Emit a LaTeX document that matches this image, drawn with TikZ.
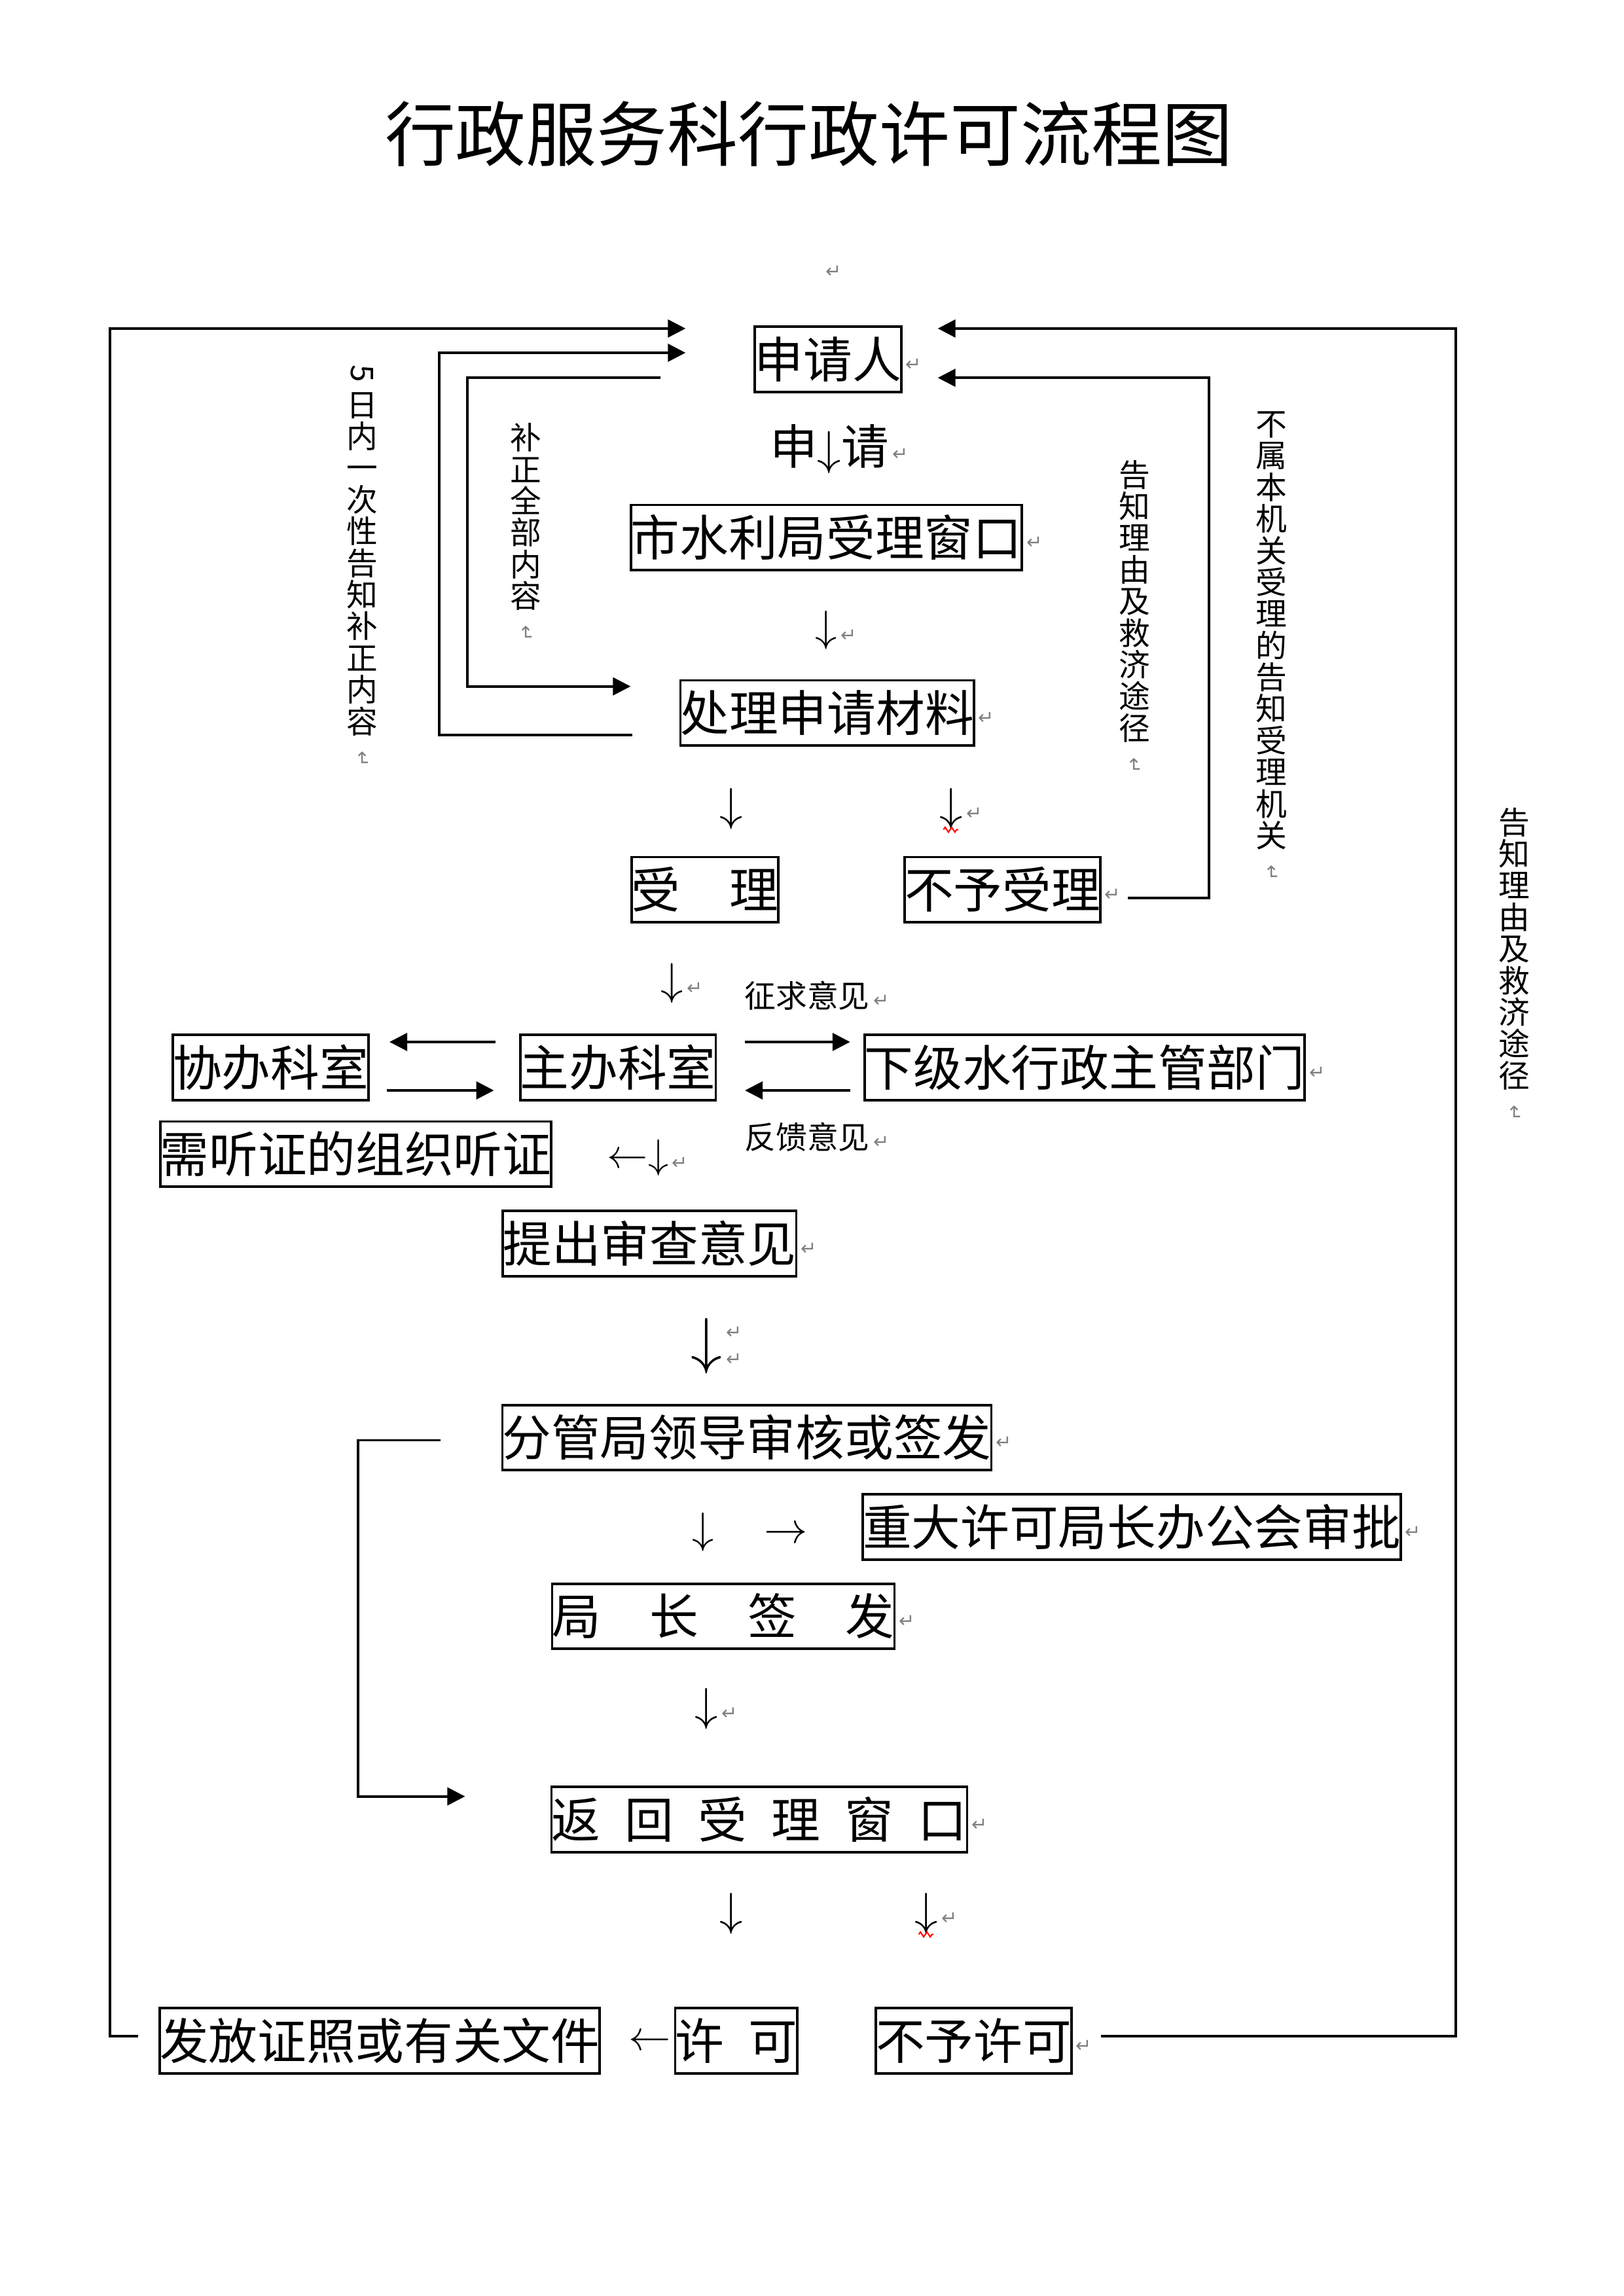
\RequirePackage{fix-cm}
\documentclass[tikz,border=0pt]{standalone}
\usepackage{fontspec}
\usepackage{graphicx}
\newfontfamily\cjk{Noto Sans CJK SC}
\newfontfamily\symf{DejaVu Sans}
\usetikzlibrary{
    arrows.meta,
    positioning,
    calc,
    decorations.pathmorphing
}
\newcommand{\pmk}{↵}
\newcommand{\vmk}{\rotatebox[origin=c]{-90}{\textcolor{gray}{\symf\fontsize{7}{7}\selectfont ↵}}}
\tikzset{para-mark/.style={
        inner sep=1pt,
        text=gray,
        font=\symf\fontsize{7}{7}\selectfont,
        yshift=-2pt
    }
}

\begin{document}
\begin{tikzpicture}[
    x=0.019056cm, y=-0.019056cm,
    box/.style={draw, line width=0.9pt, inner xsep=0pt, inner ysep=0pt, minimum height=24pt,
        text height=15pt, text depth=1.5pt, font=\cjk\fontsize{18}{18}\selectfont},
    vlabel/.style={align=center, inner sep=0pt, anchor=north, font=\cjk\fontsize{11.5}{11.66}\selectfont},
    note/.style={inner sep=0pt, font=\cjk\fontsize{11.5}{11.5}\selectfont},
    glyph-arrow/.style={inner sep=0pt, font=\fontsize{#1}{#1}\selectfont},
    connection/.style={-{Triangle[length=6.5pt,width=6.5pt]}, line width=0.9pt},
    squiggle/.style={red, line width=0.5pt, decorate, decoration={zigzag, amplitude=0.9pt, segment length=2.4pt}}
    ]

    \useasboundingbox (0,0) rectangle (1102.3,1558.8);

    \node[inner sep=0pt, font=\cjk\fontsize{26}{26}\selectfont] (title) at (549,91) {行政服务科行政许可流程图};
    \node[para-mark] (mark-top) at (566,181) {\pmk};

    \node[box, label={[para-mark]east:\pmk}] (applicant) at (562,244) {申请人};
    \node[inner sep=0pt, font=\cjk\fontsize{17.5}{17.5}\selectfont, label={[para-mark]east:\pmk}] (apply) at (563,305) {申$\downarrow$请};
    \node[box, label={[para-mark]east:\pmk}] (accept-window) at (561,365) {市水利局受理窗口};
    \node[glyph-arrow=16, label={[para-mark]east:\pmk}] (arrow-window) at (561,428) {$\downarrow$};
    \node[box, label={[para-mark]east:\pmk}] (process) at (561.5,484) {处理申请材料};
    \node[glyph-arrow=17] (arrow-accept) at (496.5,549) {$\downarrow$};
    \node[glyph-arrow=17, label={[para-mark]east:\pmk}] (arrow-refuse) at (645.5,549) {$\downarrow$};
    \node[box] (accepted) at (478.5,604) {受　理};
    \node[box, label={[para-mark]east:\pmk}] (refused) at (680.5,604) {不予受理};

    \node[glyph-arrow=16.5, label={[para-mark]east:\pmk}] (arrow-host) at (456,667.5) {$\downarrow$};
    \node[note, label={[para-mark]east:\pmk}] (ask-opinion) at (548,676) {征求意见};
    \node[box] (co-office) at (183.8,724.8) {协办科室};
    \node[box] (main-office) at (419.5,724.8) {主办科室};
    \node[box, label={[para-mark]east:\pmk}] (lower-dept) at (736.3,724.8) {下级水行政主管部门};
    \node[note, label={[para-mark]east:\pmk}] (feedback) at (548,772) {反馈意见};
    \node[box] (hearing) at (241.5,783.5) {需听证的组织听证};
    \node[glyph-arrow=15, label={[para-mark]east:\pmk}] (arrow-hearing) at (433,786) {$\leftarrow\downarrow$};
    \node[box, label={[para-mark]east:\pmk}] (review) at (441,844.3) {提出审查意见};
    \node[glyph-arrow=23, label={[para-mark, yshift=7pt]east:\pmk}, label={[para-mark, yshift=-3pt]east:\pmk}] (arrow-review) at (479.6,914) {$\downarrow$};

    \node[box, label={[para-mark]east:\pmk}] (leader) at (507,976) {分管局领导审核或签发};
    \node[glyph-arrow=16] (arrow-major) at (509,1040) {$\downarrow$\hspace{1.15em}$\rightarrow$};
    \node[box, label={[para-mark]east:\pmk}] (major) at (768.3,1036.7) {重大许可局长办公会审批};
    \node[box, label={[para-mark]east:\pmk}] (director) at (491,1097.3) {局　长　签　发};
    \node[glyph-arrow=17, label={[para-mark]east:\pmk}] (arrow-director) at (479.6,1160) {$\downarrow$};
    \node[box, label={[para-mark]east:\pmk}] (return-window) at (515.5,1235.3) {返\hspace{0.5em}回\hspace{0.5em}受\hspace{0.5em}理\hspace{0.5em}窗\hspace{0.5em}口};
    \node[glyph-arrow=17] (arrow-permit) at (496.5,1299) {$\downarrow$};
    \node[glyph-arrow=17, label={[para-mark]east:\pmk}] (arrow-no-permit) at (628.7,1299) {$\downarrow$};
    \node[box] (issue) at (257.8,1385.5) {发放证照或有关文件};
    \node[glyph-arrow=15.5] (arrow-issue) at (441.3,1386.7) {$\leftarrow$};
    \node[box] (permit) at (499.8,1385.5) {许\hspace{0.5em}可};
    \node[box, label={[para-mark]east:\pmk}] (no-permit) at (661,1385.5) {不予许可};

    \node[vlabel] (notice-five) at (246,247.5) {\rotatebox[origin=c]{-90}{5}\\日\\内\\一\\次\\性\\告\\知\\补\\正\\内\\容\\\vmk};
    \node[vlabel] (notice-all) at (357,287) {补\\正\\全\\部\\内\\容\\\vmk};
    \node[vlabel] (reason-inner) at (770,312) {告\\知\\理\\由\\及\\救\\济\\途\\径\\\vmk};
    \node[vlabel] (redirect) at (863,279) {不\\属\\本\\机\\关\\受\\理\\的\\告\\知\\受\\理\\机\\关\\\vmk};
    \node[vlabel] (reason-outer) at (1028,548) {告\\知\\理\\由\\及\\救\\济\\途\\径\\\vmk};

    \draw[connection] ($(issue.west)+(-14,-3)$) -- ++(-19,0) |- ($(applicant.north west)+(-46,2)$);
    \draw[connection] ($(no-permit.east)+(19,-3)$) -- ++(241,0) |- ($(applicant.north east)+(24,2)$);
    \draw[connection] ($(process.west)+(-32,15)$) -- ++(-131,0) |- ($(applicant.west)+(-46,-4.5)$);
    \draw[connection] ($(applicant.west)+(-63,12.5)$) -- ++(-131,0) |- ($(process.west)+(-33,-18)$);
    \draw[connection] ($(refused.east)+(18,5.6)$) -- ++(55,0) |- ($(applicant.east)+(24,12.5)$);

    \draw[connection] ($(main-office.west)+(-16,-17.4)$) -- ($(co-office.east)+(13.4,-17.4)$);
    \draw[connection] ($(co-office.east)+(11.4,15.5)$) -- ($(main-office.west)+(-17,15.5)$);
    \draw[connection] ($(main-office.east)+(19,-17.4)$) -- ($(lower-dept.west)+(-9,-17.4)$);
    \draw[connection] ($(lower-dept.west)+(-9,15.5)$) -- ($(main-office.east)+(19,15.5)$);

    \draw[connection] ($(leader.west)+(-41,1.8)$) -- ++(-56,0) |- ($(return-window.west)+(-57.9,-15.7)$);

    \draw[squiggle] ($(arrow-refuse.south)+(-5,0)$) -- ++(10,0);
    \draw[squiggle] ($(arrow-no-permit.south)+(-5,0)$) -- ++(10,0);

\end{tikzpicture}
\end{document}
